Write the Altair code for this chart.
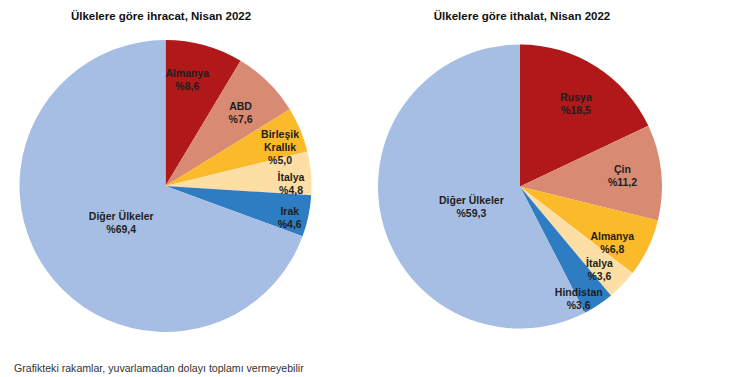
import altair as alt
import pandas as pd

# ---- data ----
exp_names = ["Almanya", "ABD", "Birleşik\nKrallık", "İtalya", "Irak", "Diğer Ülkeler"]
exp_values = [8.6, 7.6, 5.0, 4.8, 4.6, 69.4]

imp_names = ["Rusya", "Çin", "Almanya", "İtalya", "Hindistan", "Diğer Ülkeler"]
imp_values = [18.5, 11.2, 6.8, 3.6, 3.6, 59.3]

titles = ["Ülkelere göre ihracat, Nisan 2022", "Ülkelere göre ithalat, Nisan 2022"]
footnote = ["Grafikteki rakamlar, yuvarlamadan dolayı toplamı vermeyebilir"]

palette = ["#B0181A", "#D98A73", "#FBBA2A", "#FDDFA6", "#2E7DC3", "#A6BEE3"]

FONT = "Liberation Sans"


def frame(names, values):
    return pd.DataFrame({"name": names, "value": values, "idx": list(range(len(names)))})


lbl_expr = "datum.name + '\\n%' + replace(format(datum.value, '.1f'), '.', ',')"
theta = alt.Theta("value:Q", stack=True)
order = alt.Order("idx:Q", sort="ascending")


def text_layer(df, cx, cy, i, radius, dx=0, dy=0):
    return (
        alt.Chart(df)
        .transform_calculate(lbl=lbl_expr)
        .transform_calculate(t=f"datum.idx == {i} ? datum.lbl : ''")
        .mark_text(
            radius=radius, dx=dx, dy=dy, font=FONT, fontSize=10.5, fontWeight="bold",
            color="#1e1e1e", lineBreak="\n", align="center", baseline="middle", lineHeight=13,
        )
        .encode(theta=theta, order=order, text="t:N", x=alt.value(cx), y=alt.value(cy))
    )


def pie(df, cx, cy, r, label_pos):
    arc = alt.Chart(df).mark_arc(outerRadius=r).encode(
        theta=theta,
        order=order,
        color=alt.Color("idx:O", scale=alt.Scale(domain=list(range(6)), range=palette), legend=None),
        x=alt.value(cx),
        y=alt.value(cy),
    )
    out = [arc]
    for i, (rad, dx, dy) in enumerate(label_pos):
        out.append(text_layer(df, cx, cy, i, rad, dx, dy))
    return out


def label(text, x, y, size, weight, align="center", color="#111111"):
    return alt.Chart(pd.DataFrame({"t": [text]})).mark_text(
        font=FONT, fontSize=size, fontWeight=weight, align=align, baseline="middle", color=color
    ).encode(text="t:N", x=alt.value(x), y=alt.value(y))


layers = []
layers += pie(
    frame(exp_names, exp_values), 165.5, 186, 146,
    [(108, -7, -8), (104, 2, -5), (122, 2, -4), (125, 1, 3), (129, -2, -1), (54, 0, 0)],
)
layers += pie(
    frame(imp_names, imp_values), 520, 186.5, 142,
    [(101, 2, -3), (103, 0, -6), (108, -5, 4), (113, -2, -1), (128, -12, 0), (50, 0, 3)],
)
layers.append(label(titles[0], 161, 17, 11.5, "bold"))
layers.append(label(titles[1], 522, 17, 11.5, "bold"))
layers.append(label(footnote[0], 14, 369, 10.6, "normal", align="left", color="#333333"))

chart = alt.layer(*layers).resolve_scale(theta="independent").properties(
    width=730, height=377, padding=0, autosize="none"
).configure_view(stroke=None)

chart.save("out.html", embed_options={"renderer": "svg", "actions": False})
